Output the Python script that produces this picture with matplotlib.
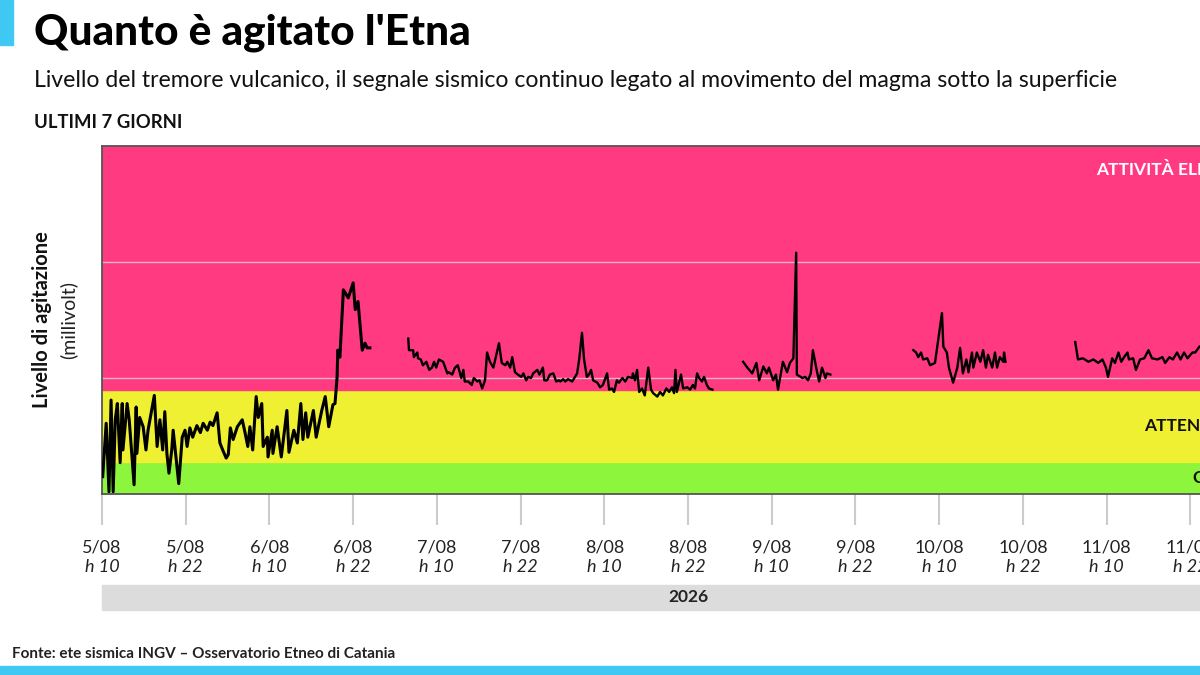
import numpy as np
import matplotlib
matplotlib.use("Agg")
import matplotlib.pyplot as plt
from matplotlib.patches import Rectangle

plt.rcParams['font.family'] = ['Lato', 'DejaVu Sans']

# hours after 5/08 h10 and tremor level (millivolt)
seg1_t = [0.1, 0.6, 1.0, 1.3, 1.6, 1.9, 2.2, 2.6, 2.9, 3.0, 3.6, 3.9, 4.6, 4.9, 5.0, 5.4, 5.9, 6.3, 6.6,
          7.5, 7.9, 8.3, 8.7, 9.0, 9.3, 9.6, 10.0, 10.2, 11.0, 11.5, 11.9, 12.2, 12.6, 13.0, 13.6, 14.1,
          14.5, 15.1, 15.5, 15.9, 16.5, 16.9, 17.3, 17.8, 18.1, 18.4, 18.8, 19.4, 20.1, 20.5, 20.9,
          21.2, 21.6, 22.1, 22.4, 22.9, 23.1, 23.7, 23.8, 24.4, 24.5, 25.1, 25.7, 26.5, 26.8, 27.5,
          28.0, 28.5, 28.8, 29.2, 29.5, 30.3, 30.7, 31.5, 32.0, 32.5, 33.1, 33.4, 33.7, 33.8, 34.1,
          34.6, 35.3, 36.0, 36.3, 36.7, 37.3, 37.7, 38.0, 38.4]
seg1_v = [1.5, 6.1, 0.2, 8.1, 0.2, 6.4, 7.8, 2.7, 7.8, 3.8, 7.8, 6.4, 0.8, 7.5, 3.5, 6.6, 5.8, 3.8, 5.5,
          8.5, 4.1, 6.4, 3.8, 7.1, 3.5, 1.8, 3.8, 5.5, 0.9, 4.9, 5.5, 4.1, 5.7, 4.9, 5.9, 5.3,
          6.1, 5.5, 6.2, 5.9, 7.0, 4.4, 3.8, 3.1, 3.4, 5.7, 4.7, 5.8, 6.4, 5.3, 4.1,
          5.8, 3.8, 8.4, 6.6, 7.8, 4.1, 4.9, 3.2, 5.5, 3.5, 5.8, 3.2, 7.2, 3.6, 5.5,
          4.4, 7.8, 4.7, 7.0, 4.9, 7.2, 4.9, 7.2, 8.4, 5.8, 7.7, 7.8, 10.1, 12.4, 11.8,
          17.6, 16.9, 18.2, 15.9, 16.6, 12.4, 13.0, 12.6, 12.6]

seg2_t = [43.9, 44.0, 44.6, 44.7, 45.2, 45.3, 45.7, 46.0, 46.5, 46.9, 47.3, 47.6, 47.9, 48.3, 48.9,
          49.5, 49.7, 50.2, 50.6, 51.0, 51.5, 51.8, 52.0, 52.5, 53.0, 53.3, 53.8, 54.1, 54.5, 54.9,
          55.2, 55.6, 56.1, 56.6, 56.9, 57.3, 57.8, 58.1, 58.5, 58.8, 59.2, 59.6, 60.1, 60.4, 60.8,
          61.1, 61.5, 61.8, 62.4, 62.7, 63.2, 63.4, 63.8, 64.2, 64.7, 65.1, 65.5, 65.7, 66.1, 66.4,
          66.8, 67.4, 67.7, 68.1, 68.4, 68.8, 69.1, 69.5, 69.8, 70.1, 70.4, 71.0, 71.4, 71.8, 72.4,
          72.7, 73.1, 73.4, 73.8, 74.1, 74.6, 75.0, 75.4, 76.0, 76.1, 76.4, 76.7, 77.0, 77.4, 77.8,
          78.3, 78.7, 79.0, 79.6, 80.0, 80.4, 80.9, 81.3, 81.7, 82.0, 82.2, 82.4, 83.0, 83.3, 83.9,
          84.3, 84.7, 85.0, 85.3, 85.6, 86.0, 86.3, 86.7, 87.0, 87.5]
seg2_v = [13.4, 12.4, 12.4, 11.8, 12.2, 11.7, 11.6, 11.1, 11.4, 10.7, 10.9, 11.4, 10.9, 11.6, 11.4,
          10.4, 10.5, 10.3, 10.9, 11.1, 10.0, 10.7, 9.7, 9.7, 9.4, 10.0, 9.7, 9.8, 9.1, 9.8,
          12.2, 11.4, 10.9, 12.2, 13.0, 11.3, 11.1, 11.4, 10.9, 11.8, 10.5, 10.3, 10.1, 10.4, 9.8,
          10.1, 10.0, 10.4, 10.7, 10.3, 10.9, 9.8, 9.8, 10.3, 10.4, 9.7, 9.8, 9.7, 9.9, 9.7,
          9.9, 9.7, 10.0, 10.4, 11.6, 13.9, 11.6, 10.1, 10.3, 10.7, 9.8, 9.6, 9.2, 9.4, 10.4,
          9.0, 9.1, 8.8, 9.8, 9.6, 10.0, 9.7, 10.1, 10.0, 10.4, 9.8, 10.7, 8.8, 9.1, 8.5,
          10.9, 9.0, 8.7, 8.4, 8.8, 8.5, 9.1, 8.8, 9.2, 8.7, 10.7, 8.8, 10.3, 9.1, 9.2,
          9.0, 9.4, 9.1, 10.4, 10.0, 9.7, 10.1, 9.4, 9.1, 9.0]

seg3_t = [91.9, 92.5, 93.2, 93.8, 94.2, 94.8, 95.3, 95.6, 96.2, 96.6, 96.9, 97.6, 98.2, 98.6, 99.1,
          99.5, 99.6, 100.4, 100.8, 101.2, 101.6, 101.9, 102.5, 102.8, 103.2, 103.7, 103.9, 104.4]
seg3_v = [11.4, 10.9, 10.4, 11.3, 9.8, 11.0, 10.4, 10.9, 9.8, 10.3, 9.0, 11.4, 10.5, 11.3, 11.7,
          20.8, 10.3, 10.0, 10.1, 9.8, 10.4, 12.4, 10.5, 9.7, 10.9, 10.0, 10.4, 10.3]

seg4_t = [116.3, 116.7, 117.0, 117.4, 117.7, 118.3, 118.7, 119.4, 120.4, 120.6, 121.1, 121.4, 122.0,
          122.6, 123.0, 123.4, 123.9, 124.2, 124.7, 124.9, 125.4, 125.9, 126.3, 126.7, 127.0, 127.6,
          128.0, 128.3, 128.7, 129.2, 129.3, 129.5]
seg4_v = [12.4, 12.2, 11.8, 12.2, 11.6, 11.7, 11.1, 11.3, 15.6, 12.7, 12.2, 10.9, 9.6,
          10.9, 12.6, 10.4, 11.6, 10.5, 12.2, 10.9, 12.2, 11.4, 12.4, 10.9, 12.0, 10.9,
          12.2, 10.9, 11.8, 11.4, 12.2, 11.4]

seg5_t = [139.5, 139.9, 140.6, 141.4, 142.1, 142.8, 143.4, 143.9, 144.2, 144.8, 145.2, 145.7, 146.1,
          146.5, 147.0, 147.2, 147.8, 148.2, 148.8, 149.4, 150.0, 150.5, 151.3, 152.0, 152.4, 153.0,
          153.5, 154.1, 154.6, 155.1, 155.6, 156.3, 156.7, 157.3]
seg5_v = [13.1, 11.6, 11.7, 11.4, 11.6, 11.3, 11.6, 10.9, 10.1, 11.7, 11.3, 12.2, 11.4,
          11.8, 12.2, 11.6, 11.7, 10.7, 11.6, 11.7, 12.4, 11.7, 11.6, 11.8, 11.3, 11.8,
          11.6, 12.2, 11.6, 12.2, 11.7, 12.2, 12.2, 12.7]

# alert bands (millivolt)
band_edges = [0, 2.8, 9.0, 30]
band_colors = ['#8cf53c', '#f0f032', '#ff3a80']
band_labels = ['CALMA', 'ATTENZIONE', 'ATTIVITÀ ELEVATA']

tick_hours = list(range(0, 168, 12))
tick_dates = ['5/08', '5/08', '6/08', '6/08', '7/08', '7/08', '8/08', '8/08',
              '9/08', '9/08', '10/08', '10/08', '11/08', '11/08']
tick_times = ['h 10', 'h 22'] * 7

fig = plt.figure(figsize=(12, 6.75), dpi=100)
# the plot runs past the right edge of the picture, like the original crop
ax = fig.add_axes([0.085, 0.2681, 0.9767, 0.5156])

for lo, hi, col in zip(band_edges[:-1], band_edges[1:], band_colors):
    ax.axhspan(lo, hi, color=col, zorder=0)
for g in [10, 20]:
    ax.axhline(g, color='#d8d8d8', lw=1, alpha=0.8, zorder=1)

ax.plot(seg1_t, seg1_v, color='black', lw=2.2, zorder=3)
for st, sv in [(seg2_t, seg2_v), (seg3_t, seg3_v), (seg4_t, seg4_v), (seg5_t, seg5_v)]:
    ax.plot(st, sv, color='black', lw=1.7, zorder=3)

ax.set_xlim(0, 168)
ax.set_ylim(0, 30)
ax.set_yticks([])
ax.set_xticks(tick_hours)
ax.set_xticklabels([])
ax.tick_params(axis='x', length=22, width=1.5, color='#cccccc')
for s in ax.spines.values():
    s.set_color('#555555')
    s.set_linewidth(1.3)

xt = ax.get_xaxis_transform()
for h, d, t in zip(tick_hours, tick_dates, tick_times):
    ax.text(h, -0.155, d, transform=xt, ha='center', va='center', fontsize=13, color='#222222')
    ax.text(h, -0.21, t, transform=xt, ha='center', va='center', fontsize=13,
            style='italic', color='#222222')

# year strip under the axis
ax.add_patch(Rectangle((0, -0.333), 168, 0.0715, transform=xt, color='#dcdcdc',
                       clip_on=False, zorder=0))
ax.text(84, -0.297, '2026', transform=xt, ha='center', va='center', fontsize=12.5,
        fontweight='bold', color='#222222')

# band names, right-aligned near the (cropped) right edge
ax.text(165.1, 27.9, band_labels[2], ha='right', va='center', fontsize=12.5,
        fontweight='bold', color='white')
ax.text(165.1, 5.9, band_labels[1], ha='right', va='center', fontsize=12.5,
        fontweight='bold', color='#111111')
ax.text(165.1, 1.4, band_labels[0], ha='right', va='center', fontsize=12.5,
        fontweight='bold', color='#111111')

fig.text(0.035, 0.526, 'Livello di agitazione', rotation=90, ha='center', va='center',
         fontsize=14.5, fontweight='bold', color='#111111')
fig.text(0.057, 0.526, '(millivolt)', rotation=90, ha='center', va='center',
         fontsize=14, color='#222222')

fig.text(0.028, 0.951, "Quanto è agitato l'Etna", ha='left', va='center', fontsize=30.5,
         fontweight='black', color='black')
fig.text(0.028, 0.881, 'Livello del tremore vulcanico, il segnale sismico continuo legato al '
         'movimento del magma sotto la superficie', ha='left', va='center', fontsize=16.6,
         color='#111111')
fig.text(0.028, 0.819, 'ULTIMI 7 GIORNI', ha='left', va='center', fontsize=13.3,
         fontweight='bold', color='#111111')
fig.text(0.01, 0.031, 'Fonte: ete sismica INGV – Osservatorio Etneo di Catania', ha='left',
         va='center', fontsize=11, fontweight='bold', color='#222222')

fig.add_artist(Rectangle((0, 0.933), 0.011, 0.067, transform=fig.transFigure,
                         color='#3ec8f2'))
fig.add_artist(Rectangle((0, 0), 1, 0.013, transform=fig.transFigure, color='#3ec8f2'))

fig.savefig('out.png', dpi=100)
